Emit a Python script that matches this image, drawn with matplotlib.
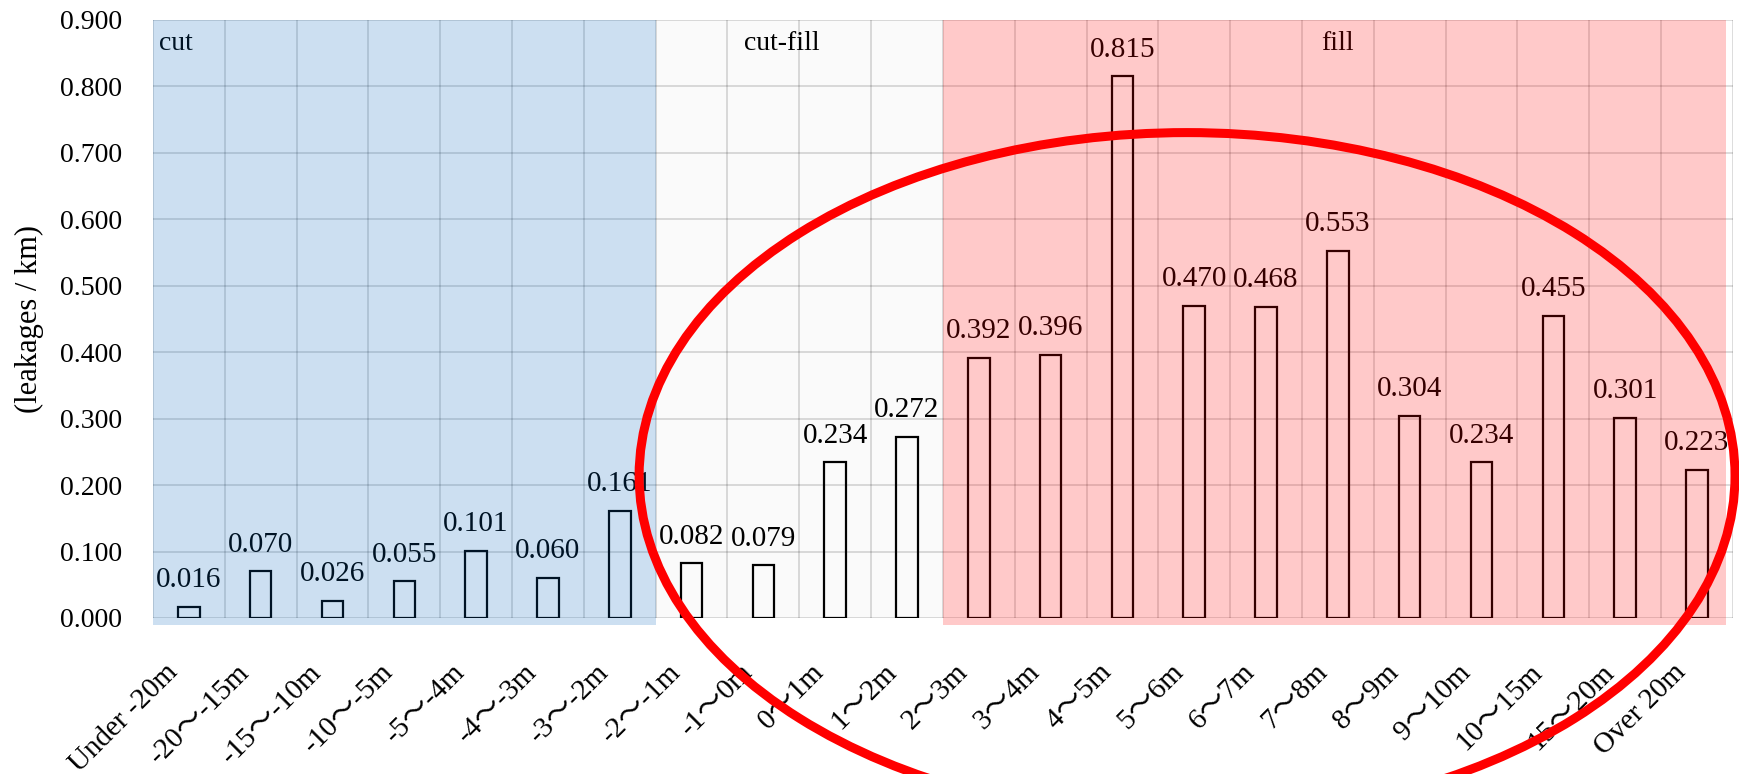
import matplotlib
matplotlib.use("Agg")
import matplotlib.pyplot as plt
import matplotlib.transforms as mtransforms
from matplotlib.patches import Rectangle, Ellipse

plt.rcParams['font.family'] = ['Liberation Serif', 'Noto Sans CJK JP']

# ===== DATA =====
categories = ["Under -20m", "-20〜-15m", "-15〜-10m", "-10〜-5m", "-5〜-4m", "-4〜-3m", "-3〜-2m",
              "-2〜-1m", "-1〜0m", "0〜1m", "1〜2m",
              "2〜3m", "3〜4m", "4〜5m", "5〜6m", "6〜7m", "7〜8m", "8〜9m", "9〜10m",
              "10〜15m", "15〜20m", "Over 20m"]
leakages = [0.016, 0.070, 0.026, 0.055, 0.101, 0.060, 0.161,
            0.082, 0.079, 0.234, 0.272,
            0.392, 0.396, 0.815, 0.470, 0.468, 0.553, 0.304, 0.234, 0.455, 0.301, 0.223]
region_names = ["cut", "cut-fill", "fill"]
region_sizes = [7, 4, 11]
yticks = [0.0, 0.1, 0.2, 0.3, 0.4, 0.5, 0.6, 0.7, 0.8, 0.9]

FS = 20

fig = plt.figure(figsize=(17.4, 7.74), dpi=100)
ax = fig.add_axes([0.0879, 0.2016, 0.908, 0.7726])

x = list(range(len(categories)))
ax.bar(x, leakages, width=0.3, facecolor='none', edgecolor='black', linewidth=1.6, zorder=2)

for xi, v in zip(x, leakages):
    ax.annotate(f"{v:.3f}", (xi, v), xytext=(0, 10), textcoords='offset points',
                ha='center', va='bottom', fontsize=21, zorder=3)

ax.set_xlim(-0.5, len(categories) - 0.5)
ax.set_ylim(0, 0.9)
ax.set_yticks(yticks)
ax.set_yticklabels([f"{t:.3f}" for t in yticks], fontsize=FS)
ax.set_xticks(x)
ax.tick_params(axis='both', length=0)
ax.tick_params(axis='x', labelbottom=False)
ax.tick_params(axis='y', pad=22)

# rotated category labels, top-right corner hooked just left of each slot centre
lbl_trans = ax.get_xaxis_transform() + mtransforms.ScaledTranslation(-0.24, -0.41, fig.dpi_scale_trans)
for xi, cat in zip(x, categories):
    ax.text(xi, 0, cat, transform=lbl_trans, fontsize=21, rotation=45, ha='right', va='top',
            rotation_mode='anchor', clip_on=False)

# grid at category boundaries and every 0.1
for b in range(len(categories) + 1):
    ax.axvline(b - 0.5, color='black', alpha=0.15, linewidth=1.3, zorder=0.5)
for t in yticks:
    ax.axhline(t, color='black', alpha=0.15, linewidth=1.3, zorder=0.5)
for s in ax.spines.values():
    s.set_visible(False)

ax.set_ylabel("(leakages / km)", fontsize=22, labelpad=12)

# region overlays
overlay_colors = [((0.0, 0.39, 0.73), 0.2), ((0.0, 0.0, 0.0), 0.02), ((1.0, 0.0, 0.0), 0.21)]
start = -0.5
for name, size, (col, al) in zip(region_names, region_sizes, overlay_colors):
    end = start + size
    w = size if name != "fill" else size - 0.09
    bottom = -0.01 if name != "cut-fill" else 0.0
    ax.add_patch(Rectangle((start, bottom), w, 0.9 - bottom, facecolor=col, alpha=al,
                           edgecolor='none', zorder=4, clip_on=False))
    start = end

ax.text(-0.42, 0.865, region_names[0], fontsize=FS, ha='left', va='center', zorder=3)
ax.text(8.26, 0.865, region_names[1], fontsize=FS, ha='center', va='center', zorder=3)
ax.text(16.0, 0.865, region_names[2], fontsize=FS, ha='center', va='center', zorder=3)

# red highlight ellipse
ax.add_patch(Ellipse((13.9, 0.214), 15.26, 1.033, facecolor='none', edgecolor='red',
                     linewidth=6.5, zorder=5, clip_on=False))

fig.savefig("out.png", dpi=100)
